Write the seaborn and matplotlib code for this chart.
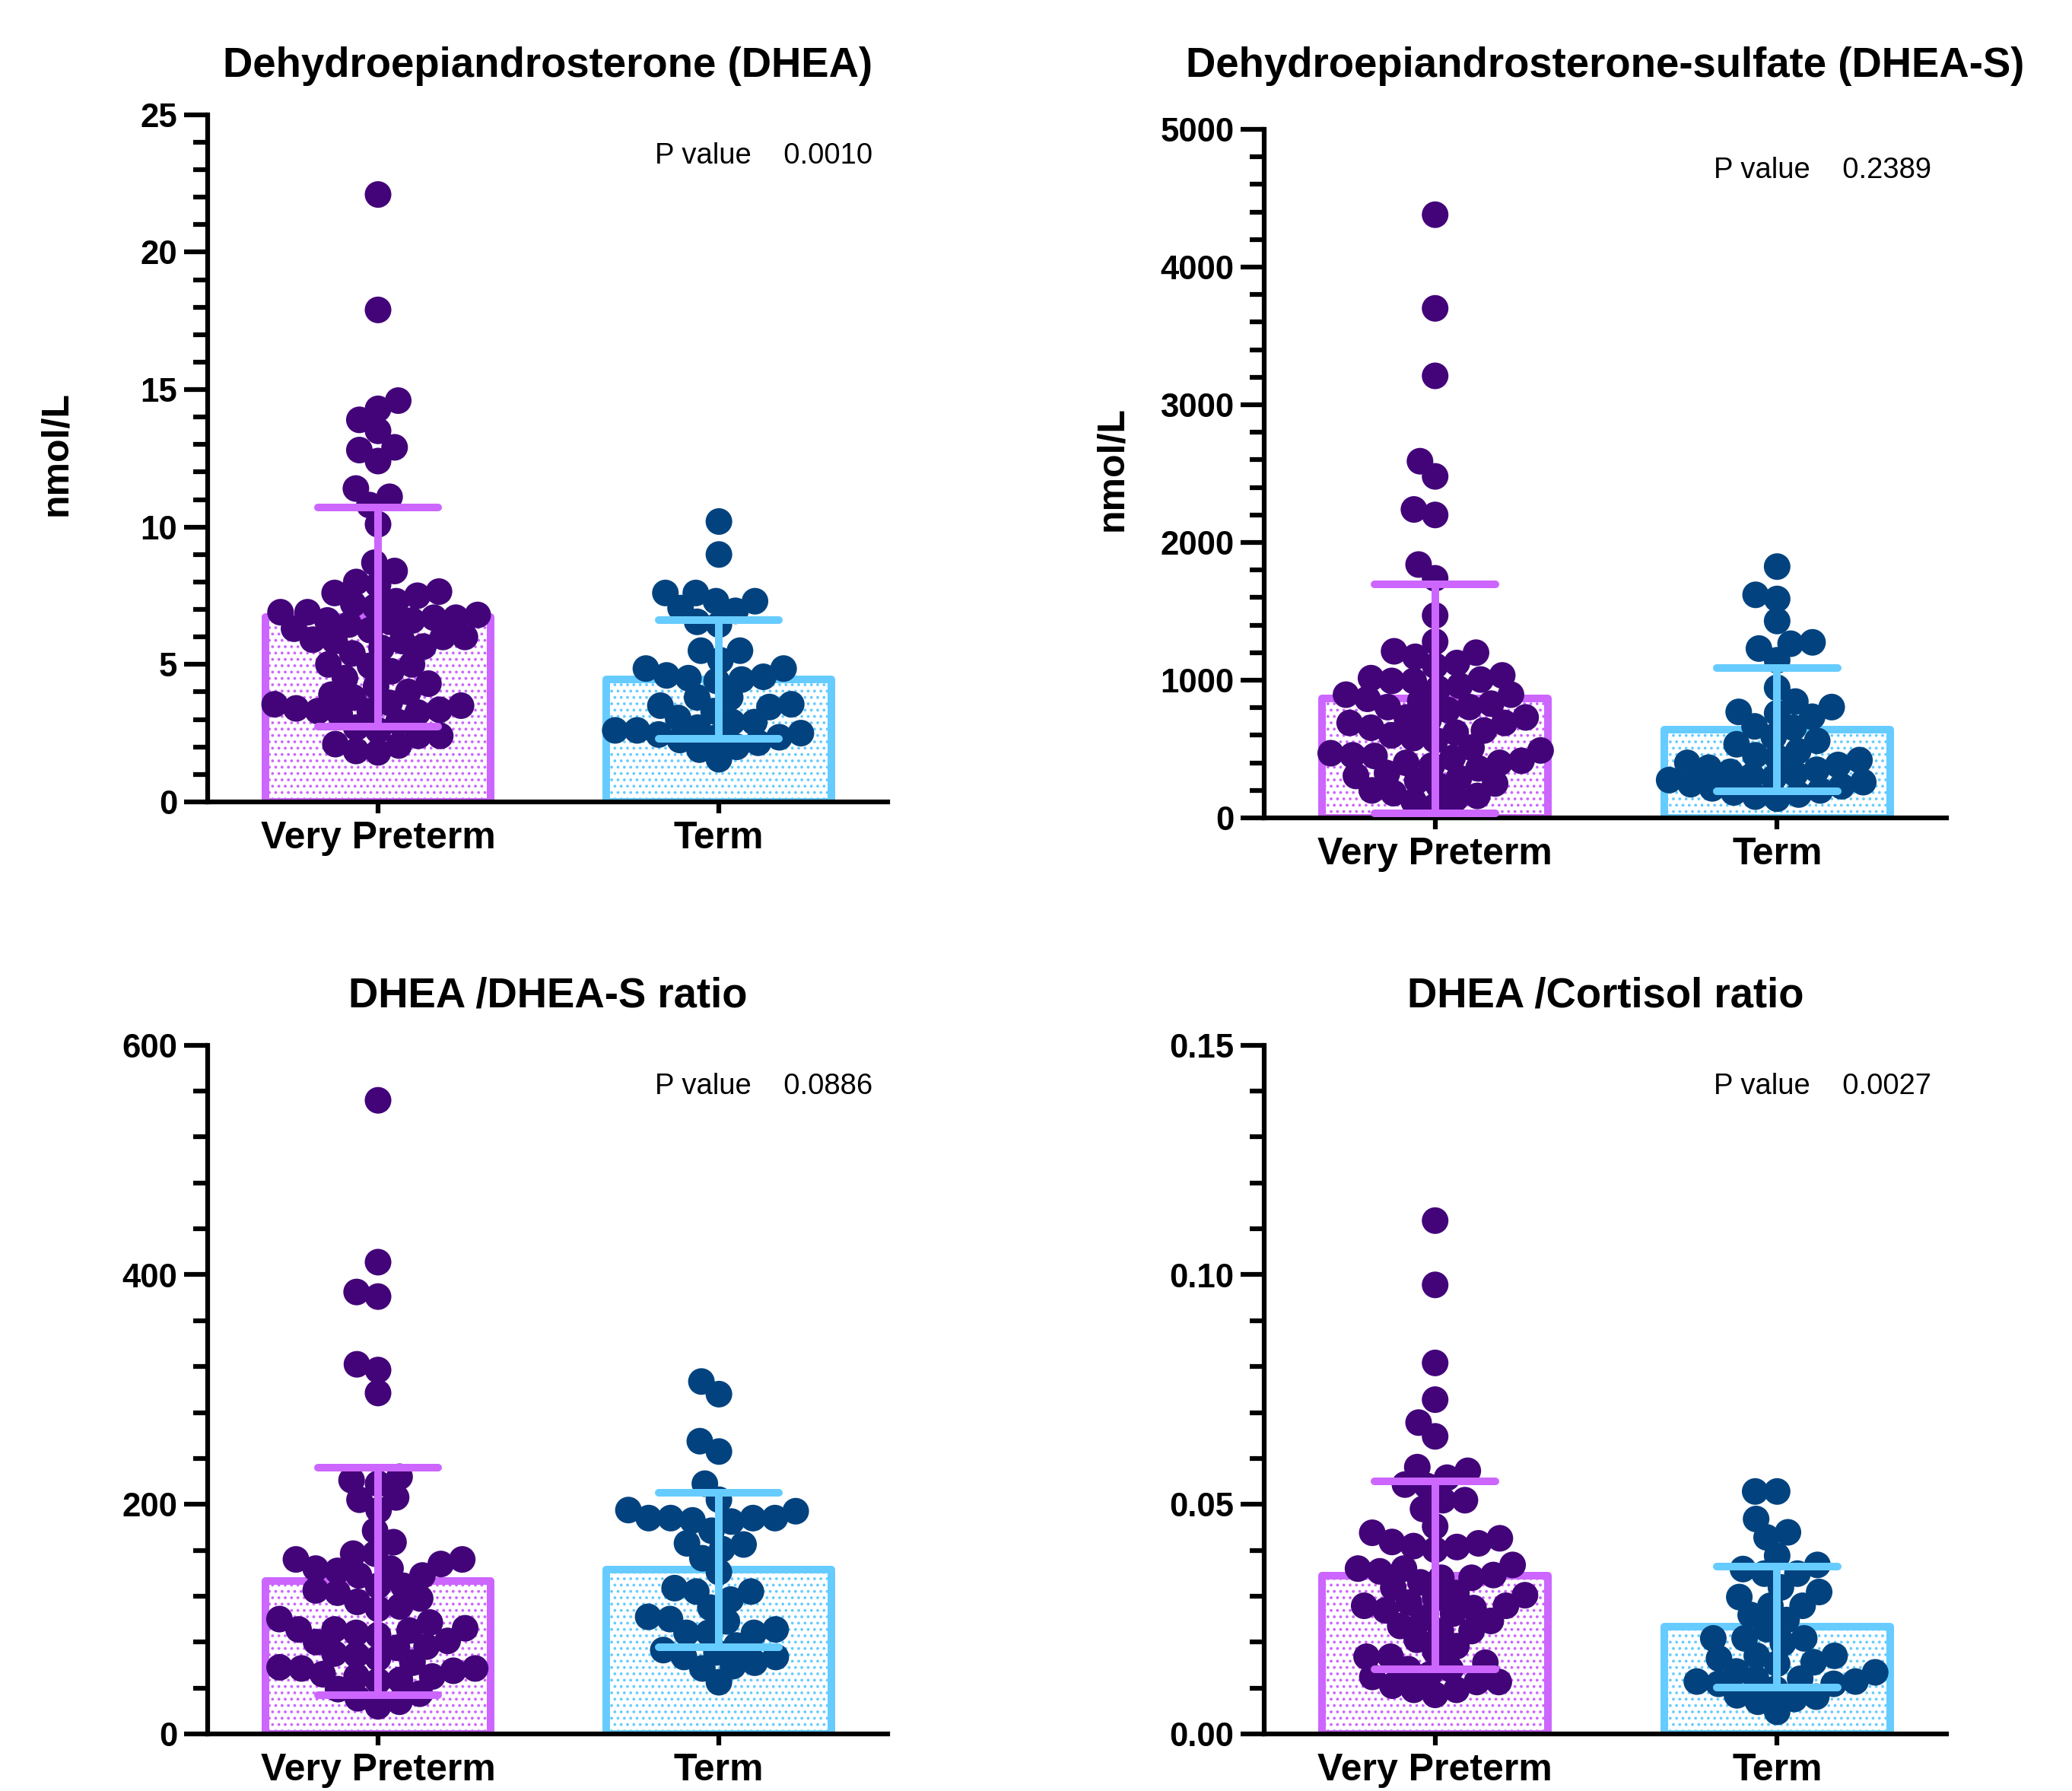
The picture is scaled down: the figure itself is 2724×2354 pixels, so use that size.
import pandas as pd
import seaborn as sns
import matplotlib.pyplot as plt
from matplotlib.ticker import MultipleLocator, FormatStrFormatter

groups = ["Very Preterm", "Term"]

# values, one list per group and panel
dhea_vp = [22.1, 17.9, 14.6, 14.3, 13.9, 13.5, 12.9, 12.8, 12.4, 11.4, 11.1, 10.8, 10.1,
           8.7, 8.4, 8.0, 7.9,
           7.65, 7.6, 7.5, 7.3, 7.2, 7.1, 6.9, 6.9, 6.8, 6.7, 6.7, 6.6, 6.6,
           6.55, 6.45, 6.3, 6.25, 6.0, 6.0, 5.9, 5.85, 5.85, 5.65, 5.6, 5.4, 5.0, 5.0,
           4.95, 4.75, 4.5, 4.3, 4.2, 4.0, 3.9, 3.8, 3.6, 3.55, 3.5,
           3.4, 3.35, 3.3, 3.3, 3.25, 3.2, 2.9, 2.7, 2.6, 2.4, 2.4, 2.1, 2.05, 1.85, 1.8]
dhea_term = [10.2, 9.0, 7.6, 7.6, 7.3, 7.3, 7.05, 6.95, 6.55, 6.45, 5.5, 5.5, 5.15, 4.85, 4.85,
             4.6, 4.55, 4.5, 4.45, 4.4, 3.8, 3.8, 3.55, 3.5, 3.45, 3.3,
             3.05, 2.9, 2.9, 2.7, 2.6, 2.6, 2.5, 2.45, 2.35, 2.35, 2.25, 2.15, 2.0, 1.9, 1.55]

dheas_vp = [4380, 3700, 3210, 2590, 2480, 2240, 2200, 1840, 1740, 1470, 1280, 1210, 1200,
            1170, 1125, 1105,
            1035, 1015, 1005, 995, 995, 960, 940, 895, 895, 865, 850, 830, 805, 805, 785,
            730, 730, 710, 690, 690, 655, 635, 620, 600, 580, 565, 510, 490, 470, 455, 450,
            435, 415, 400, 400, 380, 360, 325, 305, 290, 270, 250, 235, 200, 180, 160, 140, 120, 85]
dheas_term = [1825, 1620, 1590, 1430, 1275, 1265, 1230, 1145, 945, 845, 805, 770, 760, 735,
              665, 655, 590, 560, 535, 485,
              455, 440, 420, 400, 385, 365, 350, 335, 320, 305, 290, 275, 260, 245, 230, 215,
              200, 185, 170, 155, 140]

ratio_s_vp = [552, 411, 385, 381, 322, 317, 297,
              224, 221, 218, 206, 204, 195, 177, 167,
              157, 157, 152, 152, 148, 144, 144, 142,
              138, 138, 129, 129, 125, 123, 118, 115, 111, 109, 100, 97, 92,
              91, 91, 90, 88, 86, 81, 80, 76, 75, 70, 69, 66,
              62, 58, 57, 57, 55, 52, 50, 50, 47, 46, 39, 35, 31, 28, 24]
ratio_s_term = [307, 296, 255, 246, 218, 204, 195, 194, 188, 188, 188, 188, 186, 185, 177,
                166, 165, 161, 153, 141, 127, 124, 124, 117, 110, 102, 100, 98, 91, 88,
                88, 88, 77, 73, 71, 67, 67, 62, 59, 57, 45]

ratio_c_vp = [0.1118, 0.0978, 0.0808, 0.0728, 0.0678, 0.0648, 0.0581, 0.0573, 0.0558, 0.0543,
              0.0540, 0.0509, 0.0509, 0.0490,
              0.0452, 0.0438, 0.0426, 0.0418, 0.0415, 0.0409, 0.0407, 0.0401, 0.0368, 0.0360,
              0.0360, 0.0354, 0.0346, 0.0340, 0.0340, 0.0330, 0.0318, 0.0307, 0.0302, 0.0296,
              0.0286, 0.0279, 0.0279, 0.0274, 0.0269, 0.0262, 0.0252, 0.0246, 0.0235, 0.0224,
              0.0224, 0.0205, 0.0191, 0.0180,
              0.0168, 0.0168, 0.0155, 0.0141, 0.0141, 0.0129, 0.0124, 0.0113, 0.0113, 0.0105,
              0.0096, 0.0096, 0.0085]
ratio_c_term = [0.0528, 0.0528, 0.0468, 0.0439, 0.0428, 0.0388, 0.0368, 0.0359, 0.0349, 0.0349,
                0.0319, 0.0309, 0.0298, 0.0279, 0.0279, 0.0259, 0.0248, 0.0228, 0.0208, 0.0208,
                0.0208, 0.0197, 0.0170, 0.0170, 0.0164, 0.0156, 0.0153, 0.0136, 0.0134,
                0.0120, 0.0120, 0.0114, 0.0114, 0.0109, 0.0109, 0.0098, 0.0084, 0.0081, 0.0076,
                0.0070, 0.0048]

# bar heights (mean) and error bars (SD) as shown on the chart
bar_means = [[6.72, 4.45], [865, 640], [133, 142.8], [0.0345, 0.0233]]
bar_sds = [[3.98, 2.15], [830, 447], [99, 67.5], [0.0205, 0.0132]]

titles = ["Dehydroepiandrosterone (DHEA)", "Dehydroepiandrosterone-sulfate (DHEA-S)",
          "DHEA /DHEA-S ratio", "DHEA /Cortisol ratio"]
p_values = ["0.0010", "0.2389", "0.0886", "0.0027"]
y_labels = ["nmol/L", "nmol/L", "", ""]
y_max = [25, 5000, 600, 0.15]
y_major = [5, 1000, 200, 0.05]
y_minor = [1, 200, 40, 0.01]
y_fmt = ["%d", "%d", "%d", "%.2f"]

panel_data = [(dhea_vp, dhea_term), (dheas_vp, dheas_term),
              (ratio_s_vp, ratio_s_term), (ratio_c_vp, ratio_c_term)]

bar_colors = {"Very Preterm": "#CC66FF", "Term": "#66CCFF"}
dot_colors = {"Very Preterm": "#43047A", "Term": "#02437F"}

sns.set_theme(style="ticks")
plt.rcParams["font.family"] = ["Liberation Sans", "DejaVu Sans"]
plt.rcParams["hatch.linewidth"] = 0.5
for key in ["text.color", "axes.labelcolor", "xtick.color", "ytick.color"]:
    plt.rcParams[key] = "black"

fig = plt.figure(figsize=(9.08, 7.8467), dpi=300)
rects = [(0.1002, 0.5523, 0.3282, 0.3836), (0.6101, 0.5433, 0.3293, 0.3845),
         (0.1002, 0.0319, 0.3282, 0.3845), (0.6101, 0.0319, 0.3293, 0.3845)]
title_pads = [12, 16.5, 12, 12]

swarm_cols = []
for k in range(4):
    ax = fig.add_axes(rects[k])
    vp, term = panel_data[k]
    df = pd.DataFrame({"group": ["Very Preterm"] * len(vp) + ["Term"] * len(term),
                       "value": vp + term})
    bars = pd.DataFrame({"group": groups, "mean": bar_means[k], "sd": bar_sds[k]})

    sns.barplot(data=bars, x="group", y="mean", order=groups, color="white",
                width=0.66, errorbar=None, ax=ax, zorder=1)
    for patch, g in zip(ax.patches, groups):
        patch.set_facecolor("white")
        patch.set_edgecolor(bar_colors[g])
        patch.set_hatch("......")
        patch.set_linewidth(2.4)
        patch.set_joinstyle("round")

    n_before = len(ax.collections)
    sns.swarmplot(data=df, x="group", y="value", order=groups, hue="group",
                  palette=dot_colors, size=6.6, linewidth=0, legend=False,
                  ax=ax, zorder=2)
    swarm_cols += ax.collections[n_before:]

    # SD error bars drawn over the points
    for i, g in enumerate(groups):
        m, s = bars["mean"][i], bars["sd"][i]
        vl = ax.vlines(i, m - s, m + s, color=bar_colors[g], linewidth=2.4, zorder=3)
        hl = ax.hlines([m - s, m + s], i - 0.177, i + 0.177, color=bar_colors[g],
                       linewidth=2.4, zorder=3)
        vl.set_capstyle("round")
        hl.set_capstyle("round")

    ax.set_xlim(-0.5, 1.495)
    ax.set_ylim(0, y_max[k])
    ax.yaxis.set_major_locator(MultipleLocator(y_major[k]))
    ax.yaxis.set_minor_locator(MultipleLocator(y_minor[k]))
    ax.yaxis.set_major_formatter(FormatStrFormatter(y_fmt[k]))
    sns.despine(ax=ax)
    for sp in ["left", "bottom"]:
        ax.spines[sp].set_linewidth(1.5)
        ax.spines[sp].set_color("black")
    ax.tick_params(axis="y", which="major", length=7.5, width=1.5, pad=2,
                   labelsize=10.5, color="black")
    ax.tick_params(axis="y", which="minor", length=4.5, width=1.5, color="black")
    ax.tick_params(axis="x", which="major", length=3.6, width=1.5, pad=2.5,
                   labelsize=12, color="black")
    for lab in ax.get_yticklabels() + ax.get_xticklabels():
        lab.set_fontweight("bold")
    ax.set_xlabel("")
    ax.set_ylabel(y_labels[k], fontsize=12, fontweight="bold")
    ax.yaxis.set_label_coords(-0.197, 0.507)
    ax.set_title(titles[k], fontsize=13.1, fontweight="bold", pad=title_pads[k])
    ax.text(0.978, 0.94, "P value    " + p_values[k], transform=ax.transAxes,
            ha="right", va="center", fontsize=9.2)

# lay the swarms out once with a smaller footprint, then show bigger dots
fig.canvas.draw()
for c in swarm_cols:
    c.__dict__.pop("draw", None)
    c.set_sizes([8.4 ** 2])

fig.savefig("out.png", dpi=300)
